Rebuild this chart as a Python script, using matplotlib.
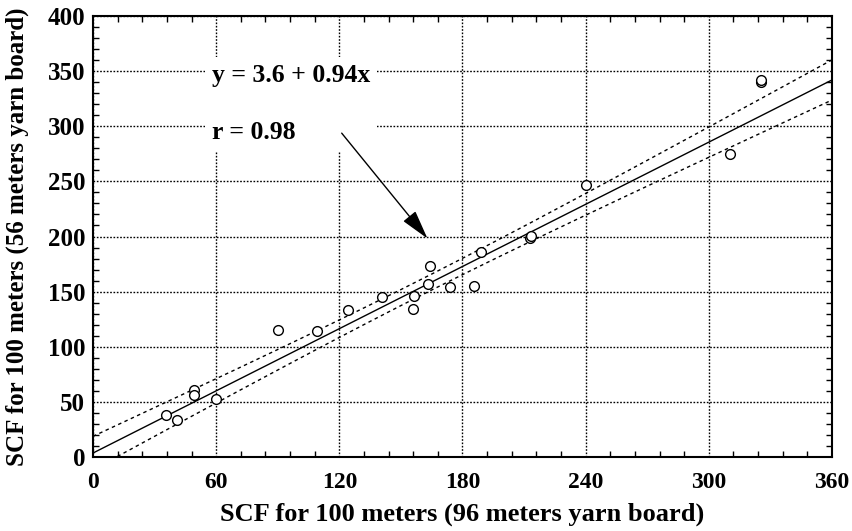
import numpy as np
import matplotlib
matplotlib.use("Agg")
import matplotlib.pyplot as plt
from matplotlib.patches import FancyArrowPatch
from matplotlib.ticker import MultipleLocator

# ---- data ----
x_vals = [35.6, 40.9, 49.3, 49.3, 59.8, 90.3, 109.0, 124.4, 140.9, 156.4, 156.0,
          163.0, 164.3, 174.0, 185.7, 189.1, 212.8, 213.2, 240.1, 310.4, 325.4, 325.4]
y_vals = [38, 34, 61, 56, 53, 115, 114, 133, 145, 146, 134,
          157, 173, 154, 155, 186, 199, 200.5, 247, 275, 340.5, 342]
intercept = 3.6
slope = 0.94
r_value = 0.98
x_ticks = [0, 60, 120, 180, 240, 300, 360]
y_ticks = [0, 50, 100, 150, 200, 250, 300, 350, 400]
x_label = "SCF for 100 meters (96 meters yarn board)"
y_label = "SCF for 100 meters (56 meters yarn board)"

plt.rcParams['font.family'] = ['Liberation Serif', 'DejaVu Serif']
plt.rcParams['font.weight'] = 'bold'

fig = plt.figure(figsize=(8.53, 5.31), dpi=100)
ax = fig.add_axes([93/853, 1-457/531, (832-93)/853, (457-16)/531])

x = np.array(x_vals, dtype=float)
y = np.array(y_vals, dtype=float)
n = len(x)

# regression line and 95% confidence band
xx = np.linspace(0, 360, 400)
yy = intercept + slope * xx
resid = y - (intercept + slope * x)
s = np.sqrt(np.sum(resid**2) / (n - 2))
xm = x.mean()
sxx = np.sum((x - xm)**2)
tval = 2.08
h = tval * s * np.sqrt(1.0/n + (xx - xm)**2 / sxx)

ax.plot(xx, yy, color='black', lw=1.0, zorder=3)
ax.plot(xx, yy + h, color='black', lw=1.0, ls=(0, (2.5, 2.5)), zorder=3)
ax.plot(xx, yy - h, color='black', lw=1.0, ls=(0, (2.5, 2.5)), zorder=3)

ax.plot(x, y, 'o', ms=7, mfc='white', mec='black', mew=1.0, zorder=4)

ax.set_xlim(0, 360)
ax.set_ylim(0, 400)
ax.set_xticks(x_ticks)
ax.set_yticks(y_ticks)
ax.xaxis.set_minor_locator(MultipleLocator(12))
ax.yaxis.set_minor_locator(MultipleLocator(10))
ax.tick_params(which='both', direction='in', top=True, right=True, colors='black')
ax.tick_params(which='minor', length=4, width=1)
ax.tick_params(axis='x', which='major', length=0, pad=11, labelsize=17)
ax.tick_params(axis='y', which='major', length=0, pad=5.5, labelsize=18)
for lab in ax.get_xticklabels() + ax.get_yticklabels():
    lab.set_fontweight('bold')

ax.grid(True, which='major', color='black', ls=(0, (1.2, 1.2)), lw=1.0)
for sp in ax.spines.values():
    sp.set_linewidth(1.5)
    sp.set_color('black')

ax.set_xlabel(x_label, fontsize=19, fontweight='bold')
ax.set_ylabel(y_label, fontsize=18, fontweight='bold')
ax.xaxis.set_label_coords(0.5, -0.104)
ax.yaxis.set_label_coords(-0.087, 0.5)

ax.text(58, 320, "y = %.1f + %.2fx\n\nr = %.2f" % (intercept, slope, r_value),
        fontsize=18.5, fontweight='bold', ha='left', va='center', linespacing=1.32,
        bbox=dict(facecolor='white', edgecolor='none', pad=5), zorder=5)

arrow = FancyArrowPatch((120.3, 295.7), (163.8, 196.2),
                        arrowstyle='-|>,head_length=1.3,head_width=0.35',
                        mutation_scale=14, color='black', lw=1.0, zorder=6)
ax.add_patch(arrow)

fig.savefig("out.png", dpi=100)
